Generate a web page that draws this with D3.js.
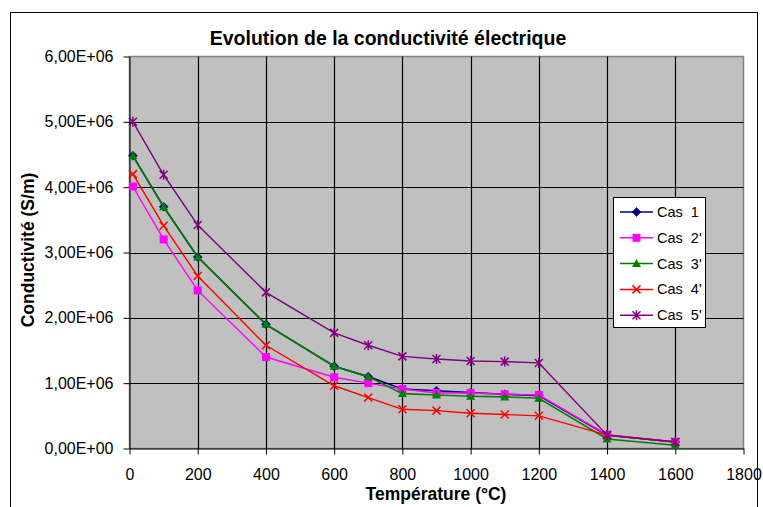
<!DOCTYPE html>
<html><head><meta charset="utf-8">
<script src="https://cdn.jsdelivr.net/npm/d3@7"></script>
<style>body{margin:0;background:#fff;}svg{display:block;font-family:"Liberation Sans",Arial,sans-serif;}svg text{font-family:"Liberation Sans",Arial,sans-serif;}</style>
</head><body><svg id="c" width="763" height="507"></svg>
<script>
const temps = [10,100,200,400,600,700,800,900,1000,1100,1200,1400,1600];
const cas1  = [4.48e6,3.70e6,2.93e6,1.90e6,1.26e6,1.10e6,0.91e6,0.885e6,0.855e6,0.83e6,0.81e6,0.205e6,0.10e6];
const cas2  = [4.01e6,3.20e6,2.42e6,1.40e6,1.09e6,1.00e6,0.91e6,0.85e6,0.85e6,0.83e6,0.82e6,0.21e6,0.10e6];
const cas3  = [4.48e6,3.70e6,2.93e6,1.90e6,1.26e6,1.10e6,0.84e6,0.82e6,0.80e6,0.79e6,0.77e6,0.145e6,0.05e6];
const cas4  = [4.20e6,3.41e6,2.64e6,1.58e6,0.96e6,0.78e6,0.60e6,0.58e6,0.54e6,0.52e6,0.50e6,0.205e6,0.10e6];
const cas5  = [5.00e6,4.19e6,3.42e6,2.39e6,1.77e6,1.58e6,1.41e6,1.37e6,1.34e6,1.33e6,1.31e6,0.205e6,0.10e6];
const seriesNames = ["Cas 1","Cas 2'","Cas 3'","Cas 4'","Cas 5'"];
const seriesValues = [cas1,cas2,cas3,cas4,cas5];
const xTicks = [0,200,400,600,800,1000,1200,1400,1600,1800];
const yTicks = [0,1e6,2e6,3e6,4e6,5e6,6e6];
const title = "Evolution de la conductivité électrique";
const xTitle = "Température (°C)";
const yTitle = "Conductivité (S/m)";

const colors = ["#000080","#FF00FF","#008000","#FF0000","#800080"];
const shapes = ["diamond","square","triangle","x","star"];
const FF = "'Liberation Sans', Arial, sans-serif";

const svg = d3.select("#c");
const L=129.5, R=743.5, T=56.5, B=448.5;
const x = d3.scaleLinear().domain([0,1800]).range([L,R]);
const y = d3.scaleLinear().domain([0,6e6]).range([B,T]);

// outer border
svg.append("rect").attr("x",10.5).attr("y",12.5).attr("width",747).attr("height",510)
  .attr("fill","#fff").attr("stroke","#000").attr("stroke-width",1);

// plot area
svg.append("rect").attr("x",L).attr("y",T).attr("width",R-L).attr("height",B-T)
  .attr("fill","#C0C0C0").attr("stroke","#808080").attr("stroke-width",1.5);

// grid
svg.append("g").selectAll("line").data(yTicks.filter(d=>d>0&&d<6e6)).join("line")
  .attr("x1",L).attr("x2",R).attr("y1",d=>Math.round(y(d))+0.5).attr("y2",d=>Math.round(y(d))+0.5)
  .attr("stroke","#000").attr("stroke-width",1.2);
svg.append("g").selectAll("line").data(xTicks.filter(d=>d>0&&d<1800)).join("line")
  .attr("y1",T).attr("y2",B).attr("x1",d=>Math.round(x(d))+0.5).attr("x2",d=>Math.round(x(d))+0.5)
  .attr("stroke","#000").attr("stroke-width",1.2);

const yfmt = d => d===0 ? "0,00E+00" : (d/1e6).toFixed(2).replace(".",",")+"E+06";
const ya = svg.append("g").attr("transform",`translate(${L},0)`)
  .call(d3.axisLeft(y).tickValues(yTicks).tickFormat(yfmt).tickSize(6).tickSizeOuter(0).tickPadding(10));
const xa = svg.append("g").attr("transform",`translate(0,${B})`)
  .call(d3.axisBottom(x).tickValues(xTicks).tickFormat(d=>String(d)).tickSize(6).tickSizeOuter(0).tickPadding(14));
[ya,xa].forEach(a=>{
  a.attr("font-family",FF).attr("font-size",16);
  a.selectAll("text").attr("fill","#000");
  a.select(".domain").attr("stroke","#000");
  a.selectAll(".tick line").attr("stroke","#000");
});

// titles
svg.append("text").attr("x",388).attr("y",45).attr("text-anchor","middle").attr("font-family",FF)
  .attr("font-size",19.5).attr("font-weight","bold").text(title);
svg.append("text").attr("x",436).attr("y",500).attr("text-anchor","middle").attr("font-family",FF)
  .attr("font-size",17.5).attr("font-weight","bold").text(xTitle);
svg.append("text").attr("transform","translate(34,250) rotate(-90)").attr("text-anchor","middle").attr("font-family",FF)
  .attr("font-size",17.5).attr("font-weight","bold").text(yTitle);

function marker(g, shape, color){
  if(shape==="diamond"){
    g.append("path").attr("d","M0,-4.5L4.5,0L0,4.5L-4.5,0Z").attr("fill",color).attr("stroke",color).attr("stroke-width",0.5);
  } else if(shape==="square"){
    g.append("rect").attr("x",-4).attr("y",-4).attr("width",8).attr("height",8).attr("fill",color);
  } else if(shape==="triangle"){
    g.append("path").attr("d","M0,-4.5L4.5,3.5L-4.5,3.5Z").attr("fill",color);
  } else if(shape==="x"){
    g.append("path").attr("d","M-4,-4L4,4M4,-4L-4,4").attr("stroke",color).attr("stroke-width",1.5).attr("fill","none");
  } else {
    g.append("path").attr("d","M-4,-4L4,4M4,-4L-4,4M0,-5L0,5").attr("stroke",color).attr("stroke-width",1.5).attr("fill","none");
  }
}

const line = d3.line().x(d=>x(d[0])).y(d=>y(d[1]));
seriesValues.forEach((vals,i)=>{
  const pts = temps.map((t,j)=>[t,vals[j]]);
  svg.append("path").datum(pts).attr("d",line).attr("fill","none")
    .attr("stroke",colors[i]).attr("stroke-width",i===2||i===0?1.6:1.4);
  pts.forEach(p=>{
    const g = svg.append("g").attr("transform",`translate(${x(p[0])},${y(p[1])})`);
    marker(g, shapes[i], colors[i]);
  });
});

// legend
const lg = svg.append("g");
lg.append("rect").attr("x",613.5).attr("y",197.5).attr("width",92).attr("height",130)
  .attr("fill","#fff").attr("stroke","#000").attr("stroke-width",1);
seriesNames.forEach((n,i)=>{
  const yy = 212 + i*25.8;
  lg.append("line").attr("x1",620).attr("x2",653).attr("y1",yy).attr("y2",yy)
    .attr("stroke",colors[i]).attr("stroke-width",1.5);
  const g = lg.append("g").attr("transform",`translate(636.5,${yy})`);
  marker(g, shapes[i], colors[i]);
  lg.append("text").attr("x",657).attr("y",yy+5).attr("font-family",FF).attr("font-size",14.5).text(n.replace(" ","\u00a0\u00a0"));
});
</script></body></html>
